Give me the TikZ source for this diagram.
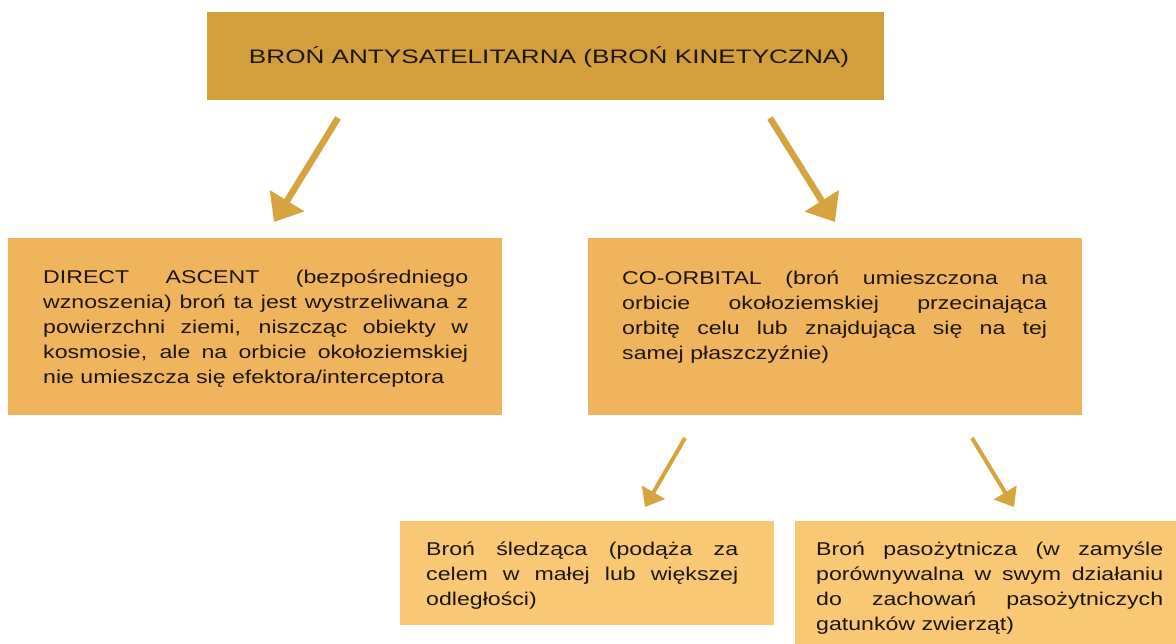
\documentclass[tikz,border=0pt]{standalone}
\usepackage{fontspec}
\setmainfont[FakeStretch=1.25]{Liberation Sans}
\newfontfamily\titlefont[FakeStretch=1.34]{Liberation Sans}
\usetikzlibrary{arrows.meta}

\definecolor{topgold}{RGB}{211,159,60}
\definecolor{midgold}{RGB}{240,181,92}
\definecolor{lowgold}{RGB}{249,200,117}
\definecolor{arrowgold}{RGB}{214,163,62}
\definecolor{textdark}{RGB}{26,22,18}

\hyphenpenalty=10000
\exhyphenpenalty=10000
\tolerance=10000
\hbadness=10000

\begin{document}
\begin{tikzpicture}[x=1pt,y=-1pt,
	box/.style={anchor=north west, inner sep=0pt},
	txt/.style={anchor=north west, inner sep=0pt, align=justify, text=textdark,
		font=\fontsize{18.5}{25}\selectfont},
	bigarrow/.style={-{Triangle[length=25pt,width=39pt]}, line width=6.5pt, draw=arrowgold},
	smallarrow/.style={-{Triangle[length=17pt,width=26pt]}, line width=4pt, draw=arrowgold}]

	\useasboundingbox (0,0) rectangle (1176,644);

	% boxes
	\node[box, fill=topgold, minimum width=677pt, minimum height=88pt] (asat) at (207,12) {};
	\node[box, fill=midgold, minimum width=494pt, minimum height=177pt] (direct) at (8,238) {};
	\node[box, fill=midgold, minimum width=494pt, minimum height=177pt] (coorb) at (588,238) {};
	\node[box, fill=lowgold, minimum width=374pt, minimum height=104pt] (trail) at (400,521) {};
	\node[box, fill=lowgold, minimum width=381pt, minimum height=123pt] (parasite) at (795,521) {};

	% texts
	\node[anchor=base, inner sep=0pt, text=textdark, font=\titlefont\fontsize{19.5}{22}\selectfont]
		(asattxt) at (549,64) {BROŃ ANTYSATELITARNA (BROŃ KINETYCZNA)};
	\node[txt, text width=425pt] (directtxt) at (43,266) {\strut DIRECT ASCENT (bezpośredniego\linebreak
		wznoszenia) broń ta jest wystrzeliwana z\linebreak
		powierzchni ziemi, niszcząc obiekty w\linebreak
		kosmosie, ale na orbicie okołoziemskiej\linebreak
		nie umieszcza się efektora/interceptora};
	\node[txt, text width=425pt] (coorbtxt) at (622,266.5) {\strut CO-ORBITAL (broń umieszczona na\linebreak
		orbicie okołoziemskiej przecinająca\linebreak
		orbitę celu lub znajdująca się na tej\linebreak
		samej płaszczyźnie)};
	\node[txt, text width=312pt] (trailtxt) at (426,537.5) {\strut Broń śledząca (podąża za\linebreak
		celem w małej lub większej\linebreak
		odległości)};
	\node[txt, text width=347pt] (parasitetxt) at (816,537.5) {\strut Broń pasożytnicza (w zamyśle\linebreak
		porównywalna w swym działaniu\linebreak
		do zachowań pasożytniczych\linebreak
		gatunków zwierząt)};

	% arrows
	\coordinate (a1) at (338,118);
	\coordinate (b1) at (274,222);
	\coordinate (a2) at (770,118);
	\coordinate (b2) at (835,222);
	\coordinate (a3) at (685,438);
	\coordinate (b3) at (645,507);
	\coordinate (a4) at (972,438);
	\coordinate (b4) at (1014,507);
	\draw[bigarrow] (a1) -- (b1);
	\draw[bigarrow] (a2) -- (b2);
	\draw[smallarrow] (a3) -- (b3);
	\draw[smallarrow] (a4) -- (b4);
\end{tikzpicture}
\end{document}
